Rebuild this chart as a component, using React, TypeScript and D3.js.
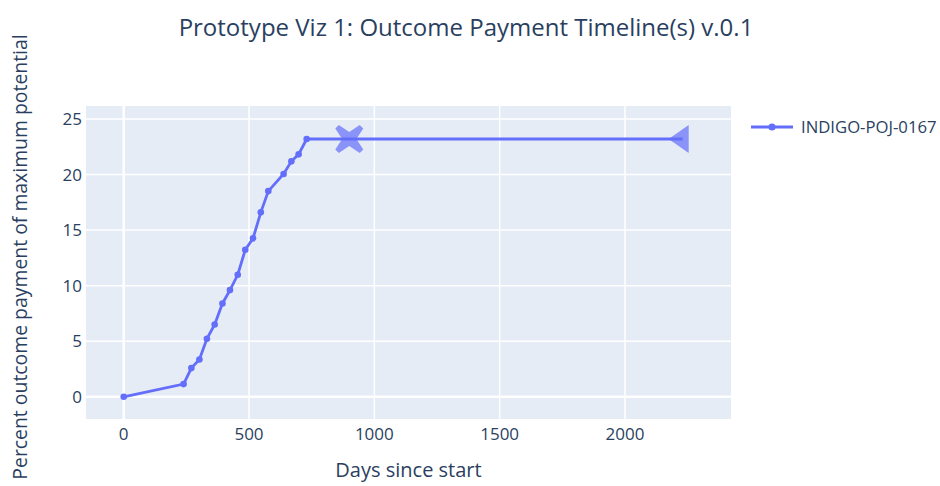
import { useEffect, useRef } from "react";
import * as d3 from "d3";

const seriesName = "INDIGO-POJ-0167";
const days = [0, 239, 270, 302, 332, 363, 394, 424, 455, 485, 516, 547, 577, 638, 669, 698, 730, 2230];
const percent = [0, 1.14, 2.58, 3.36, 5.22, 6.51, 8.4, 9.6, 10.98, 13.23, 14.26, 16.6, 18.51, 20.05, 21.19, 21.82, 23.2, 23.2];
const crossPoint = { day: 900, value: 23.2 };
const endPoint = { day: 2230, value: 23.2 };
const xTicks = [0, 500, 1000, 1500, 2000];
const yTicks = [0, 5, 10, 15, 20, 25];

const W = 940;
const H = 486;
const FONT = "'Open Sans', sans-serif";
const TEXT = "#2a3f5f";
const BLUE = "#636efa";

export default function App() {
  const svgRef = useRef<SVGSVGElement>(null);

  useEffect(() => {
    document.body.style.margin = "0";
    if (!svgRef.current) return;
    const svg = d3.select(svgRef.current);
    svg.selectAll("*").remove();

    const plot = { left: 86, right: 731, top: 106, bottom: 419 };
    const x = d3.scaleLinear().domain([-150.4, 2423]).range([plot.left, plot.right]);
    const y = d3.scaleLinear().domain([-2.0, 26.17]).range([plot.bottom, plot.top]);

    svg.append("rect").attr("width", W).attr("height", H).attr("fill", "white");
    svg
      .append("rect")
      .attr("x", plot.left)
      .attr("y", plot.top)
      .attr("width", plot.right - plot.left)
      .attr("height", plot.bottom - plot.top)
      .attr("fill", "#e5ecf6");

    // grid
    const grid = svg.append("g");
    grid
      .selectAll(".gx")
      .data(xTicks)
      .enter()
      .append("line")
      .attr("x1", (d) => x(d))
      .attr("x2", (d) => x(d))
      .attr("y1", plot.top)
      .attr("y2", plot.bottom)
      .attr("stroke", "white")
      .attr("stroke-width", (d) => (d === 0 ? 2.5 : 1.5));
    grid
      .selectAll(".gy")
      .data(yTicks)
      .enter()
      .append("line")
      .attr("x1", plot.left)
      .attr("x2", plot.right)
      .attr("y1", (d) => y(d))
      .attr("y2", (d) => y(d))
      .attr("stroke", "white")
      .attr("stroke-width", (d) => (d === 0 ? 2.5 : 1.5));

    // tick labels
    svg
      .append("g")
      .selectAll("text")
      .data(xTicks)
      .enter()
      .append("text")
      .attr("x", (d) => x(d))
      .attr("y", plot.bottom + 21)
      .attr("text-anchor", "middle")
      .style("font-family", FONT)
      .style("font-size", "17px")
      .attr("fill", TEXT)
      .text((d) => String(d));
    svg
      .append("g")
      .selectAll("text")
      .data(yTicks)
      .enter()
      .append("text")
      .attr("x", plot.left - 4)
      .attr("y", (d) => y(d))
      .attr("dy", "0.36em")
      .attr("text-anchor", "end")
      .style("font-family", FONT)
      .style("font-size", "17px")
      .attr("fill", TEXT)
      .text((d) => String(d));

    // titles
    svg
      .append("text")
      .attr("x", 466)
      .attr("y", 36)
      .attr("text-anchor", "middle")
      .style("font-family", FONT)
      .style("font-size", "24px")
      .attr("fill", TEXT)
      .text("Prototype Viz 1: Outcome Payment Timeline(s) v.0.1");
    svg
      .append("text")
      .attr("x", (plot.left + plot.right) / 2)
      .attr("y", 477)
      .attr("text-anchor", "middle")
      .style("font-family", FONT)
      .style("font-size", "20px")
      .attr("fill", TEXT)
      .text("Days since start");
    // axis title is cut at the bottom in the original; keep it just inside here
    svg
      .append("text")
      .attr("transform", `translate(27,257) rotate(-90)`)
      .attr("text-anchor", "middle")
      .style("font-family", FONT)
      .style("font-size", "19.4px")
      .attr("fill", TEXT)
      .text("Percent outcome payment of maximum potential");

    const chart = svg.append("g");
    const pts = days.map((d, i) => [d, percent[i]] as [number, number]);
    const line = d3
      .line<[number, number]>()
      .x((d) => x(d[0]))
      .y((d) => y(d[1]));
    chart
      .append("path")
      .attr("d", line(pts))
      .attr("fill", "none")
      .attr("stroke", BLUE)
      .attr("stroke-width", 2.8);
    chart
      .selectAll("circle")
      .data(pts.slice(0, pts.length - 1))
      .enter()
      .append("circle")
      .attr("cx", (d) => x(d[0]))
      .attr("cy", (d) => y(d[1]))
      .attr("r", 3.3)
      .attr("fill", BLUE);

    // X marker
    const cx = x(crossPoint.day);
    const cy = y(crossPoint.value);
    const r = 14;
    const t = 5;
    const k = t / Math.SQRT2;
    const xPath = [
      [-r + k, -r], [0, -2 * k], [r - k, -r], [r, -r + k], [2 * k, 0], [r, r - k],
      [r - k, r], [0, 2 * k], [-r + k, r], [-r, r - k], [-2 * k, 0], [-r, -r + k],
    ];
    chart
      .append("path")
      .attr("transform", `translate(${cx},${cy})`)
      .attr("d", "M" + xPath.map((p) => p.join(",")).join("L") + "Z")
      .attr("fill", BLUE)
      .attr("fill-opacity", 0.7);

    // triangle-left marker
    const tx = x(endPoint.day);
    const ty = y(endPoint.value);
    const tr = 12.1;
    const rt = (tr * 2) / Math.sqrt(3);
    const r2 = tr / 2;
    chart
      .append("path")
      .attr("transform", `translate(${tx},${ty})`)
      .attr("d", `M${-rt},0L${r2},${rt}L${r2},${-rt}Z`)
      .attr("fill", BLUE)
      .attr("fill-opacity", 0.7);

    // legend
    const legend = svg.append("g").attr("transform", "translate(751,127)");
    legend
      .append("line")
      .attr("x1", 0)
      .attr("x2", 42)
      .attr("stroke", BLUE)
      .attr("stroke-width", 2.8);
    legend.append("circle").attr("cx", 21).attr("r", 3.6).attr("fill", BLUE);
    legend
      .append("text")
      .attr("x", 50)
      .attr("dy", "0.36em")
      .style("font-family", FONT)
      .style("font-size", "16.7px")
      .attr("fill", TEXT)
      .text(seriesName);
  }, []);

  return <svg ref={svgRef} width={W} height={H} style={{ display: "block" }} />;
}
